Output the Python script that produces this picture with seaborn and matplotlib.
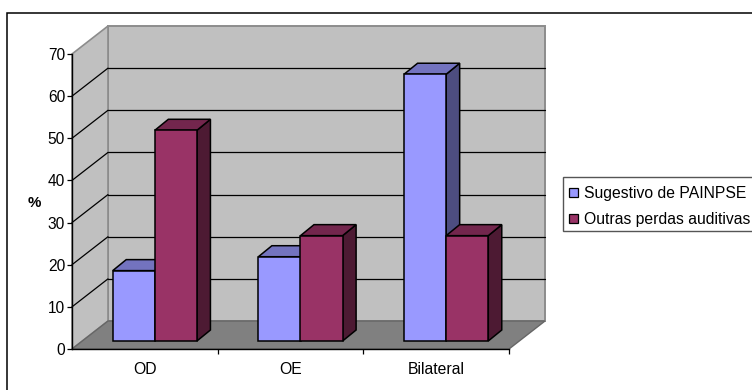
import matplotlib
matplotlib.use("Agg")
import matplotlib.pyplot as plt
from matplotlib.patches import Polygon, Rectangle, Patch
from matplotlib.transforms import Affine2D
import pandas as pd
import seaborn as sns

categories = ["OD", "OE", "Bilateral"]
series_names = ["Sugestivo de PAINPSE", "Outras perdas auditivas"]
painpse_values = [16.7, 20, 63.3]
outras_values = [50, 25, 25]
y_ticks = [0, 10, 20, 30, 40, 50, 60, 70]

W, H = 752, 390
BLUE, BLUE_TOP, BLUE_SIDE = "#9999FF", "#7373BF", "#4D4D80"
RED, RED_TOP, RED_SIDE = "#993366", "#73264D", "#4D1A33"
WALL, FLOOR, WALL_EDGE = "#C0C0C0", "#808080", "#8C8C8C"

sns.set_theme(style="white")
plt.rcParams["font.family"] = ["Liberation Sans", "DejaVu Sans"]

table = pd.DataFrame({
    "categoria": categories * 2,
    "serie": [series_names[0]] * 3 + [series_names[1]] * 3,
    "valor": painpse_values + outras_values,
})

fig = plt.figure(figsize=(W / 100, H / 100), dpi=100, facecolor="white")
# Chart border: its right and bottom edges run past the canvas
fig.add_artist(Rectangle((7 / W, -20 / H), 760 / W, (H - 13 + 20) / H, transform=fig.transFigure,
                         fc="white", ec="black", lw=1.1, zorder=-5))

# Front plane of the pseudo-3D box: x 72-509 px, y 349 (zero) to 54 (seventy)
ax = fig.add_axes([72 / W, 1 - 349 / H, 437 / W, 295 / H])
ax.patch.set_alpha(0)
sns.barplot(data=table, x="categoria", y="valor", hue="serie", hue_order=series_names,
            palette=[BLUE, RED], width=0.578, gap=0, saturation=1, dodge=True,
            edgecolor="black", linewidth=1.1, legend=False, ax=ax, zorder=5)
ax.set_xlim(-0.5, 2.5)
ax.set_ylim(0, 70)

# Pixel offsets, y measured upward
BOX_DEPTH = (36, 28)
BAR_SHIFT = (10, 8)
BAR_DEPTH = (13.5, 11)


def shifted(offset):
    return ax.transData + Affine2D().translate(*offset)


def to_px(x, y):
    return ax.transData.transform((x, y))


x0, x1 = ax.get_xlim()
dx, dy = BOX_DEPTH
front_l0, front_l70 = to_px(x0, 0), to_px(x0, 70)
front_r0 = to_px(x1, 0)
back = lambda p: (p[0] + dx, p[1] + dy)

ax.add_patch(Rectangle((x0, 0), x1 - x0, 70, transform=shifted(BOX_DEPTH), fc=WALL, ec=WALL_EDGE,
                       lw=1.4, zorder=0, clip_on=False))
ax.add_patch(Polygon([front_l0, front_l70, back(front_l70), back(front_l0)], transform=None,
                     fc=WALL, ec=WALL_EDGE, lw=1.2, zorder=0, clip_on=False))
ax.add_patch(Polygon([front_l0, front_r0, back(front_r0), back(front_l0)], transform=None,
                     fc=FLOOR, ec="#666666", lw=1.0, zorder=1, clip_on=False))

# Gridlines run along the back wall and down the side wall to each tick
for tick in y_ticks[1:-1]:
    p = to_px(x0, tick)
    q = to_px(x1, tick)
    ax.plot([back(p)[0], back(q)[0]], [back(p)[1], back(q)[1]], transform=None,
            color="black", lw=0.9, zorder=2, clip_on=False)
    ax.plot([p[0], back(p)[0]], [p[1], back(p)[1]], transform=None,
            color="black", lw=0.9, zorder=2, clip_on=False)

# Each bar gets a top and a side face built from its own rectangle
bars = [b for b in ax.patches if isinstance(b, Rectangle) and b.get_height() > 0 and b.get_zorder() == 5]
bx, by = BAR_DEPTH
sx, sy = BAR_SHIFT
for i, bar in enumerate(sorted(bars, key=lambda b: b.get_x())):
    left, right = bar.get_x(), bar.get_x() + bar.get_width()
    bl, tl, tr, br = (to_px(left, 0), to_px(left, bar.get_height()),
                      to_px(right, bar.get_height()), to_px(right, 0))
    move = lambda p, ox=0, oy=0: (p[0] + sx + ox, p[1] + sy + oy)
    is_blue = bar.get_facecolor()[2] > 0.8
    z = 5 + i * 0.1
    top_col, side_col = (BLUE_TOP, BLUE_SIDE) if is_blue else (RED_TOP, RED_SIDE)
    ax.add_patch(Polygon([move(tr), move(br), move(br, bx, by), move(tr, bx, by)], transform=None,
                         fc=side_col, ec="black", lw=1.1, zorder=z, clip_on=False))
    ax.add_patch(Polygon([move(tl), move(tr), move(tr, bx, by), move(tl, bx, by)], transform=None,
                         fc=top_col, ec="black", lw=1.1, zorder=z, clip_on=False))
    bar.set_transform(shifted(BAR_SHIFT))
    bar.set_zorder(z + 0.05)
    bar.set_clip_on(False)

sns.despine(ax=ax, top=True, right=True)
for side in ("left", "bottom"):
    ax.spines[side].set_color("black")
    ax.spines[side].set_linewidth(1.0)
    ax.spines[side].set_zorder(3)
ax.set_yticks(y_ticks)
ax.set_xticks([0.5, 1.5, 2.5], minor=False)
ax.set_xticklabels([])
ax.tick_params(axis="both", which="major", length=3.5, width=0.9, color="black", left=True,
               bottom=True, pad=1.5, labelsize=11.2, labelcolor="black")
ax.set_xticks([0, 1, 2], labels=categories, minor=True)
ax.tick_params(axis="x", which="minor", length=0, pad=9, labelsize=11.3, labelcolor="black")
ax.set_xlabel("")
ax.set_ylabel("")
fig.text(34 / W, 1 - 203 / H, "%", fontsize=10.8, fontweight="bold", color="black", ha="center", va="center")

handles = [Patch(fc=BLUE, ec="black", lw=0.9), Patch(fc=RED, ec="black", lw=0.9)]
fig.add_artist(Rectangle((563 / W, 1 - 231 / H), 200 / W, 54 / H, transform=fig.transFigure,
                         fc="white", ec="#555555", lw=1.0, zorder=-4))
leg = fig.legend(handles, series_names, loc="center left", bbox_to_anchor=(563 / W, 1 - 206.5 / H),
                 frameon=False, fontsize=11.3, handlelength=0.55, handleheight=0.55, handletextpad=0.38,
                 labelspacing=0.72, borderpad=0, borderaxespad=0.38, labelcolor="black")

fig.savefig("out.png", dpi=100)
